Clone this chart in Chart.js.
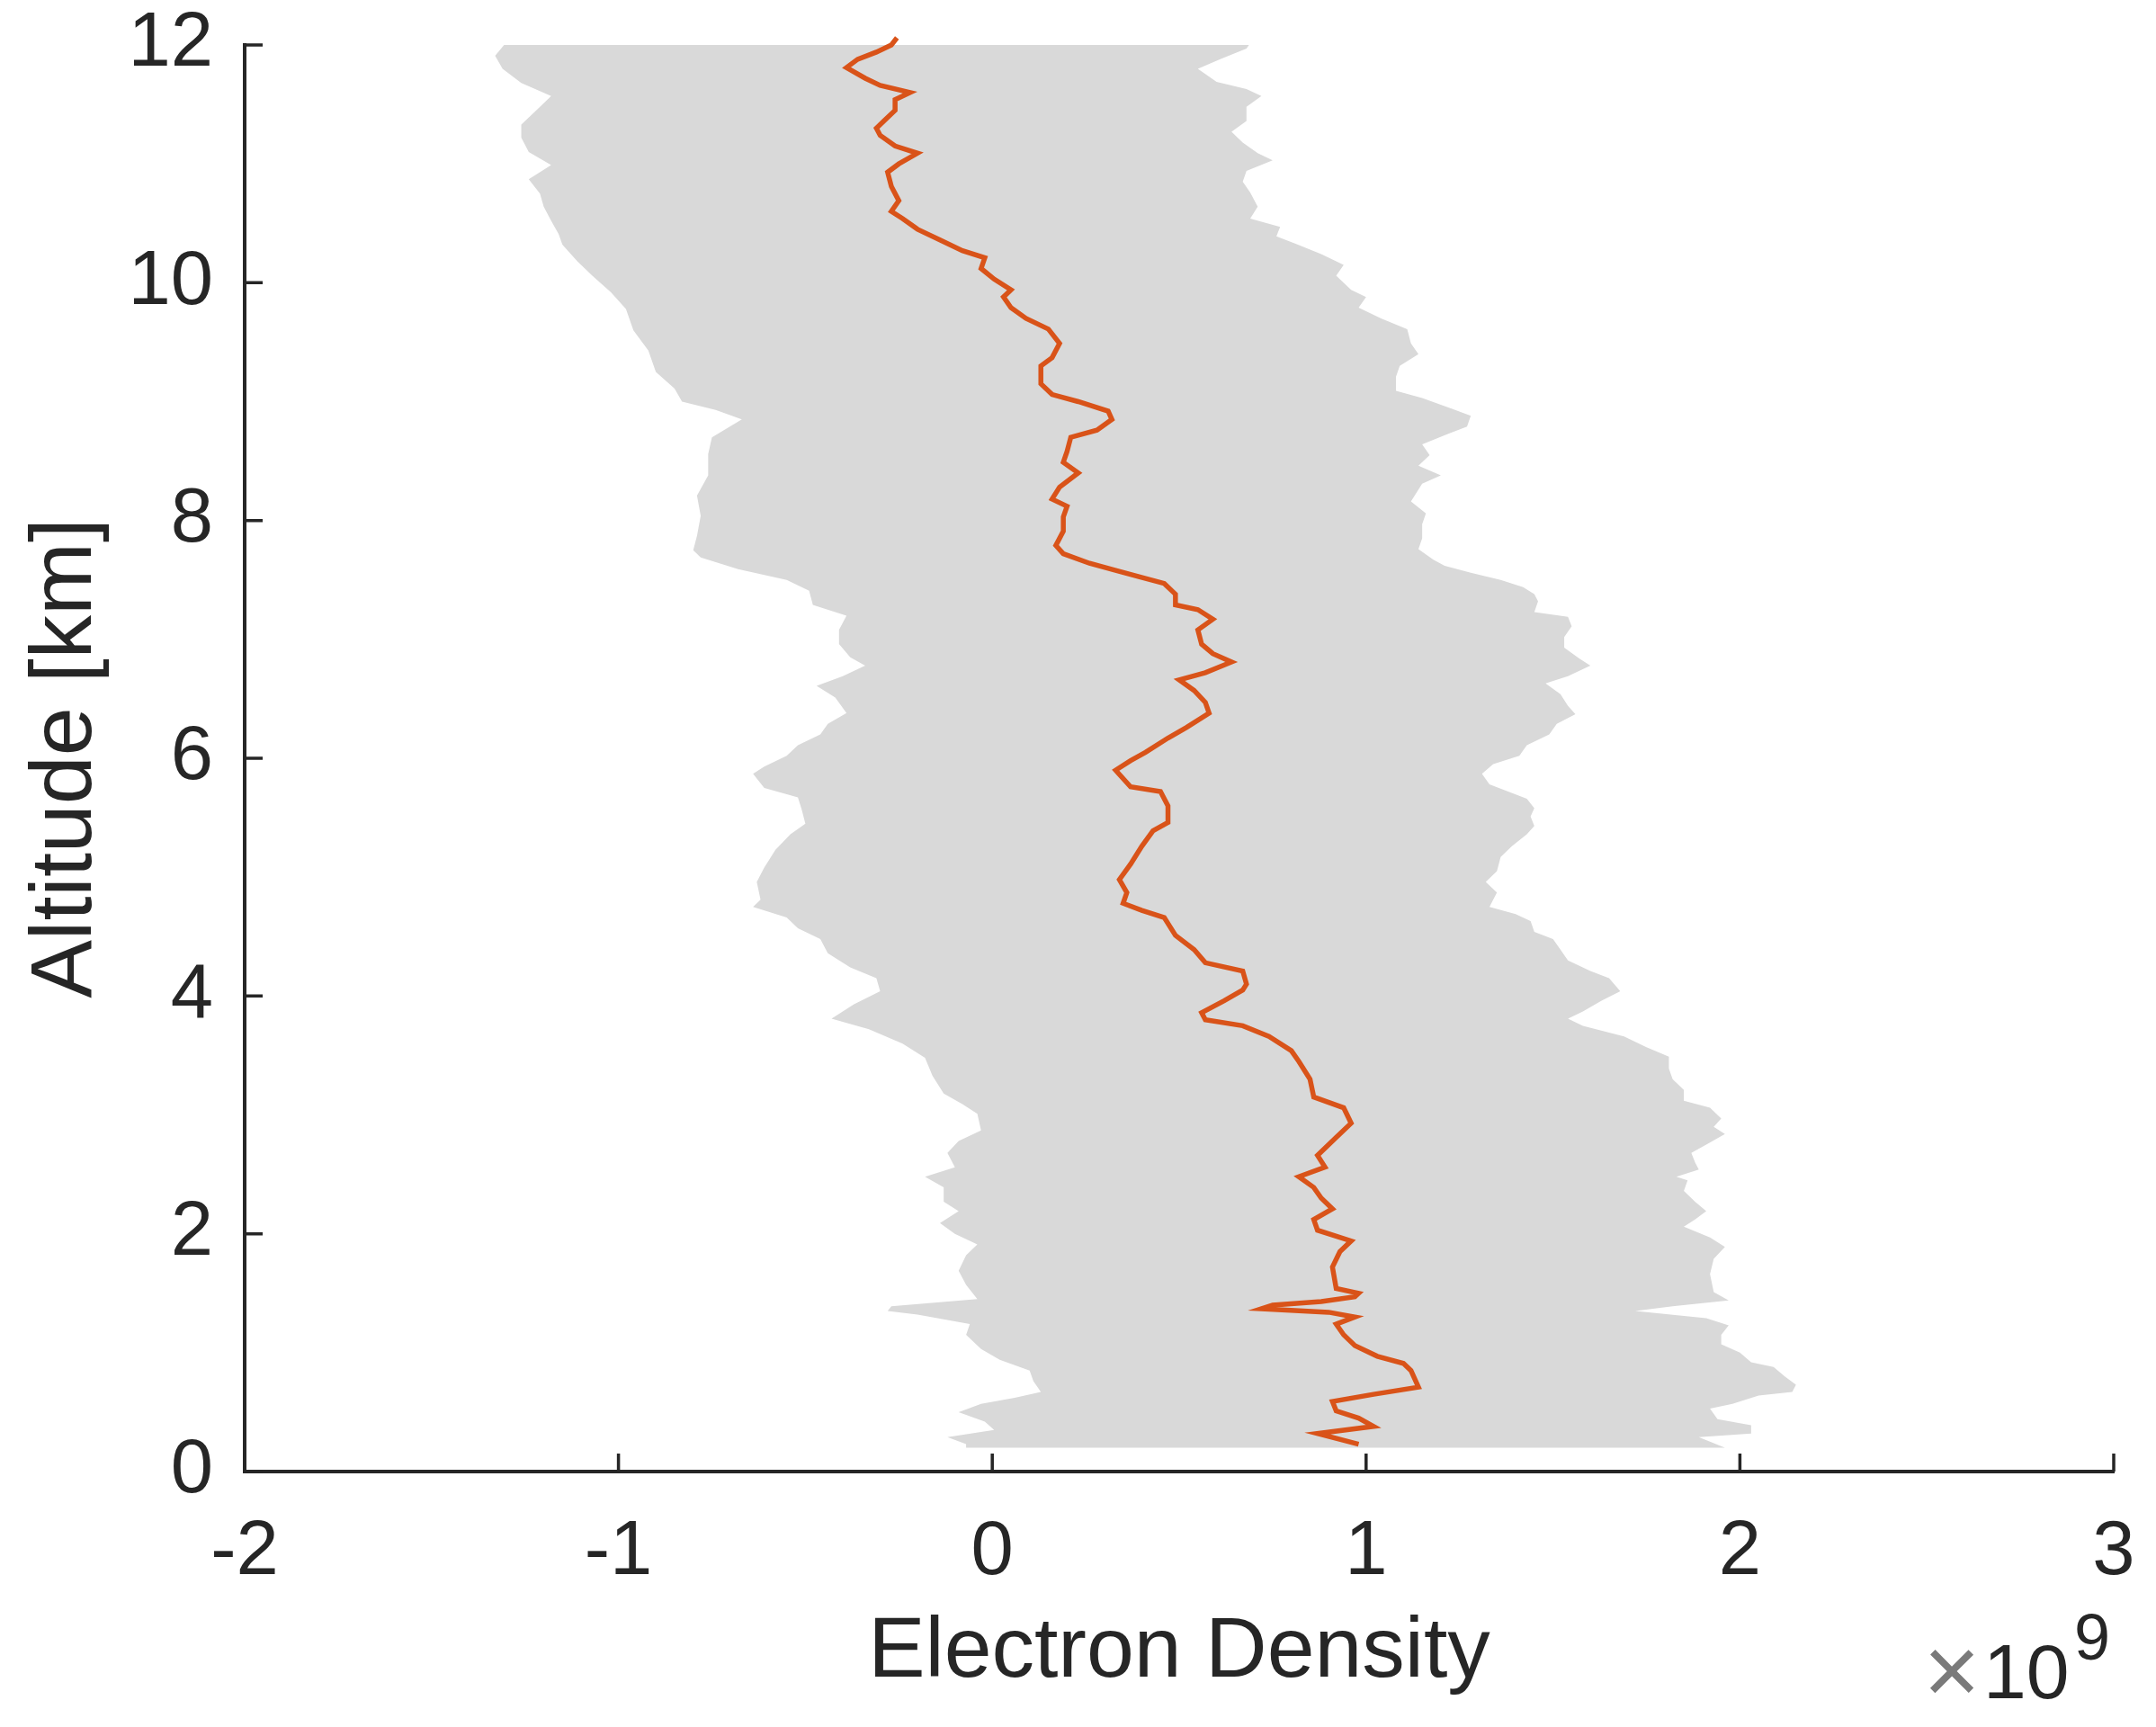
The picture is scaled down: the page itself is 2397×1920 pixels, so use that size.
<!DOCTYPE html>
<html>
<head>
<meta charset="utf-8">
<script src="https://cdn.jsdelivr.net/npm/chart.js@4.4.1/dist/chart.umd.min.js"></script>
<style>
 html,body{margin:0;padding:0;background:#fff;}
 canvas{display:block;}
</style>
</head>
<body>
<canvas id="chart" width="2397" height="1920"></canvas>
<script>
// values, x in units of 1e9

const meanAlt = [0.23,0.32,0.38,0.45,0.51,0.59,0.65,0.71,0.85,0.91,0.97,1.06,1.15,1.24,1.30,1.34,1.37,1.40,1.43,1.47,1.50,1.54,1.72,1.85,1.94,2.03,2.12,2.21,2.30,2.39,2.48,2.56,2.66,2.81,2.93,3.06,3.15,3.30,3.45,3.54,3.66,3.75,3.80,3.86,3.96,4.05,4.10,4.21,4.28,4.39,4.51,4.66,4.72,4.78,4.87,4.98,5.11,5.26,5.39,5.46,5.60,5.72,5.76,5.90,5.98,6.05,6.17,6.26,6.38,6.47,6.57,6.66,6.72,6.81,6.88,6.96,7.08,7.17,7.25,7.29,7.38,7.47,7.53,7.58,7.64,7.72,7.79,7.91,8.03,8.12,8.18,8.28,8.40,8.49,8.58,8.70,8.76,8.85,8.92,9.00,9.06,9.15,9.30,9.37,9.49,9.61,9.70,9.79,9.88,9.94,10.03,10.12,10.21,10.27,10.36,10.45,10.54,10.60,10.69,10.81,10.93,11.00,11.09,11.15,11.24,11.30,11.36,11.45,11.54,11.60,11.66,11.72,11.81,11.88,11.94,12.00,12.06];
const meanVal = [0.98,0.87,1.02,0.98,0.92,0.91,1.02,1.14,1.12,1.10,1.03,0.97,0.94,0.92,0.97,0.90,0.72,0.75,0.88,0.97,0.98,0.92,0.91,0.93,0.96,0.87,0.86,0.91,0.88,0.86,0.82,0.89,0.87,0.92,0.96,0.94,0.86,0.85,0.82,0.80,0.74,0.67,0.57,0.56,0.62,0.67,0.68,0.67,0.57,0.54,0.49,0.46,0.40,0.35,0.36,0.34,0.37,0.40,0.43,0.47,0.47,0.45,0.37,0.33,0.37,0.41,0.47,0.52,0.58,0.57,0.54,0.50,0.57,0.64,0.59,0.56,0.55,0.59,0.55,0.49,0.49,0.46,0.39,0.33,0.26,0.19,0.17,0.19,0.19,0.20,0.16,0.18,0.23,0.19,0.20,0.21,0.28,0.32,0.31,0.23,0.16,0.13,0.13,0.16,0.18,0.15,0.09,0.05,0.03,0.05,0.005,-0.03,-0.02,-0.08,-0.14,-0.20,-0.24,-0.27,-0.25,-0.27,-0.28,-0.25,-0.20,-0.26,-0.30,-0.31,-0.29,-0.26,-0.26,-0.22,-0.30,-0.34,-0.39,-0.36,-0.31,-0.27,-0.255];

const lowAlt = [0.20,0.23,0.29,0.35,0.42,0.50,0.57,0.62,0.67,0.76,0.85,0.94,1.03,1.15,1.24,1.32,1.35,1.39,1.45,1.57,1.69,1.82,1.91,2.00,2.09,2.19,2.27,2.39,2.48,2.56,2.68,2.78,2.87,3.01,3.09,3.18,3.33,3.48,3.60,3.72,3.81,3.93,4.04,4.15,4.24,4.36,4.48,4.57,4.66,4.75,4.81,4.96,5.08,5.23,5.36,5.45,5.57,5.67,5.75,5.87,5.93,6.02,6.11,6.20,6.29,6.38,6.51,6.61,6.69,6.78,6.85,6.96,7.08,7.20,7.29,7.41,7.50,7.59,7.69,7.75,7.87,8.04,8.21,8.38,8.56,8.70,8.85,8.93,9.00,9.11,9.25,9.43,9.60,9.78,9.92,10.06,10.18,10.32,10.41,10.52,10.64,10.75,10.87,10.99,11.10,11.22,11.33,11.45,11.57,11.68,11.80,11.91,12.06];
const lowVal = [-0.07,-0.07,-0.12,0.005,-0.02,-0.09,-0.03,0.06,0.13,0.11,0.10,0.02,-0.03,-0.07,-0.06,-0.20,-0.28,-0.27,-0.04,-0.07,-0.09,-0.07,-0.04,-0.10,-0.14,-0.09,-0.13,-0.13,-0.18,-0.10,-0.12,-0.09,-0.03,-0.04,-0.08,-0.13,-0.16,-0.18,-0.24,-0.33,-0.43,-0.37,-0.30,-0.31,-0.38,-0.44,-0.46,-0.52,-0.55,-0.64,-0.62,-0.63,-0.61,-0.58,-0.54,-0.50,-0.51,-0.52,-0.61,-0.64,-0.61,-0.55,-0.52,-0.46,-0.44,-0.39,-0.42,-0.47,-0.40,-0.34,-0.38,-0.41,-0.41,-0.39,-0.48,-0.49,-0.55,-0.68,-0.78,-0.80,-0.79,-0.78,-0.79,-0.76,-0.76,-0.75,-0.67,-0.74,-0.83,-0.85,-0.90,-0.92,-0.96,-0.98,-1.02,-1.07,-1.11,-1.15,-1.16,-1.18,-1.20,-1.21,-1.24,-1.18,-1.24,-1.26,-1.26,-1.22,-1.18,-1.26,-1.31,-1.33,-1.29];

const highAlt = [0.20,0.29,0.32,0.39,0.44,0.53,0.57,0.64,0.67,0.73,0.80,0.88,0.92,1.00,1.07,1.15,1.23,1.29,1.35,1.39,1.44,1.51,1.66,1.79,1.89,1.97,2.06,2.12,2.19,2.27,2.36,2.45,2.48,2.54,2.60,2.68,2.75,2.84,2.90,2.97,3.06,3.12,3.21,3.30,3.39,3.49,3.57,3.66,3.75,3.81,3.87,3.96,4.04,4.15,4.21,4.30,4.39,4.48,4.54,4.63,4.69,4.75,4.87,4.96,5.05,5.17,5.26,5.36,5.43,5.51,5.58,5.66,5.72,5.78,5.87,5.95,6.02,6.11,6.20,6.29,6.37,6.44,6.54,6.63,6.69,6.78,6.84,6.93,7.02,7.11,7.19,7.23,7.32,7.38,7.44,7.50,7.56,7.62,7.67,7.76,7.85,7.97,8.06,8.16,8.31,8.38,8.46,8.55,8.64,8.73,8.79,8.88,8.94,9.03,9.09,9.21,9.30,9.40,9.49,9.61,9.70,9.79,9.88,9.94,10.06,10.15,10.24,10.33,10.39,10.47,10.54,10.64,10.76,10.85,10.94,11.03,11.09,11.18,11.27,11.36,11.48,11.57,11.63,11.69,11.80,11.88,11.97,12.06];
const highVal = [1.96,1.89,2.03,2.03,1.94,1.92,1.98,2.05,2.14,2.15,2.12,2.09,2.03,2.00,1.95,1.95,1.97,1.91,1.72,1.82,1.97,1.93,1.92,1.93,1.96,1.92,1.85,1.88,1.91,1.88,1.85,1.86,1.83,1.89,1.88,1.87,1.91,1.96,1.93,1.95,1.92,1.85,1.85,1.82,1.81,1.81,1.75,1.69,1.58,1.54,1.58,1.63,1.68,1.65,1.60,1.54,1.52,1.50,1.45,1.44,1.40,1.33,1.35,1.32,1.35,1.36,1.39,1.43,1.45,1.44,1.45,1.43,1.38,1.33,1.31,1.34,1.41,1.43,1.49,1.51,1.56,1.54,1.52,1.48,1.54,1.60,1.57,1.53,1.53,1.55,1.54,1.45,1.46,1.45,1.42,1.36,1.28,1.21,1.18,1.14,1.15,1.15,1.16,1.12,1.15,1.20,1.14,1.17,1.15,1.22,1.27,1.28,1.23,1.15,1.08,1.08,1.09,1.14,1.12,1.11,1.04,0.98,1.00,0.96,0.92,0.94,0.88,0.81,0.76,0.77,0.69,0.71,0.69,0.67,0.68,0.75,0.71,0.67,0.64,0.68,0.68,0.72,0.68,0.60,0.55,0.61,0.68,0.70];

const xTicks = [-2,-1,0,1,2,3];
const yTicks = [0,2,4,6,8,10,12];
const xTitle = "Electron Density";
const yTitle = "Altitude [km]";
const xExponent = "9";

const FONT = '"Liberation Sans", Arial, Helvetica, sans-serif';
const INK = '#262626';

// band = lower edge going up, upper edge coming back down
const band = lowAlt.map((a,i)=>({x:lowVal[i], y:a}))
  .concat(highAlt.map((a,i)=>({x:highVal[i], y:a})).reverse());
const mean = meanAlt.map((a,i)=>({x:meanVal[i], y:a}));

// matlab style ticks pointing into the axes
const inwardTicks = {
  id:'inwardTicks',
  afterDatasetsDraw(chart){
    const {ctx, chartArea:a, scales:{x,y}} = chart;
    ctx.save();
    ctx.strokeStyle = INK;
    ctx.lineWidth = 3.5;
    ctx.beginPath();
    xTicks.forEach(v=>{
      const px = x.getPixelForValue(v);
      ctx.moveTo(px, a.bottom);
      ctx.lineTo(px, a.bottom-20);
    });
    yTicks.forEach(v=>{
      const py = y.getPixelForValue(v);
      ctx.moveTo(a.left, py);
      ctx.lineTo(a.left+20, py);
    });
    ctx.stroke();
    ctx.restore();
  }
};

// the x10^9 multiplier under the right end of the x axis
const exponentLabel = {
  id:'exponentLabel',
  afterDraw(chart){
    const {ctx, chartArea:a} = chart;
    ctx.save();
    ctx.textBaseline = 'alphabetic';
    ctx.textAlign = 'center';
    ctx.font = '108px ' + FONT;
    ctx.fillStyle = '#7a7a7a';
    ctx.fillText('\u00d7', a.right-180, a.bottom+258);
    ctx.textAlign = 'left';
    ctx.fillStyle = INK;
    ctx.font = '86px ' + FONT;
    ctx.fillText('10', a.right-145, a.bottom+252);
    ctx.font = '72px ' + FONT;
    ctx.fillText(xExponent, a.right-44, a.bottom+209);
    ctx.restore();
  }
};

new Chart(document.getElementById('chart'), {
  type:'scatter',
  data:{
    datasets:[
      {
        data:mean,
        showLine:true,
        borderColor:'#d95319',
        borderWidth:5.5,
        pointRadius:0,
        fill:false,
        tension:0,
        clip:false
      },
      {
        data:band,
        showLine:true,
        borderColor:'rgba(217,217,217,0)',
        borderWidth:1,
        backgroundColor:'#d9d9d9',
        pointRadius:0,
        fill:'shape',
        tension:0
      }
    ]
  },
  options:{
    responsive:false,
    animation:false,
    devicePixelRatio:1,
    layout:{padding:{left:0, top:50, right:47, bottom:0}},
    plugins:{
      legend:{display:false},
      tooltip:{enabled:false}
    },
    scales:{
      x:{
        type:'linear',
        min:-2, max:3,
        afterBuildTicks:s=>{ s.ticks = xTicks.map(v=>({value:v})); },
        afterFit:s=>{ s.height = 284; s.paddingLeft = 0; s.paddingRight = 0; },
        ticks:{color:INK, font:{family:FONT, size:85}, padding:40, maxRotation:0},
        grid:{display:false, drawTicks:false},
        border:{display:true, color:INK, width:4},
        title:{display:true, text:xTitle, color:INK,
               font:{family:FONT, size:95}, padding:{top:0, bottom:25}}
      },
      y:{
        type:'linear',
        min:0, max:12,
        afterBuildTicks:s=>{ s.ticks = yTicks.map(v=>({value:v})); },
        afterFit:s=>{ s.width = 272; s.paddingTop = 0; s.paddingBottom = 0; },
        ticks:{color:INK, font:{family:FONT, size:85}, padding:35},
        grid:{display:false, drawTicks:false},
        border:{display:true, color:INK, width:4},
        title:{display:true, text:yTitle, color:INK,
               font:{family:FONT, size:97}, padding:{top:16, bottom:0}}
      }
    }
  },
  plugins:[inwardTicks, exponentLabel]
});
</script>
</body>
</html>
